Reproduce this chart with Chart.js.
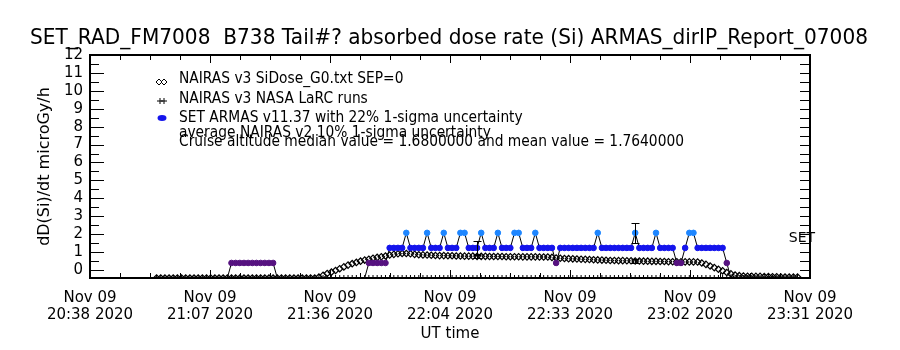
<!DOCTYPE html>
<html lang="en">
<head>
<meta charset="utf-8">
<title>SET_RAD_FM7008 absorbed dose rate</title>
<script src="https://cdn.jsdelivr.net/npm/chart.js@4.4.1/dist/chart.umd.min.js"></script>
<style>
    body { margin: 0; background: #fff; }
    canvas { display: block; }
</style>
</head>
<body>
<canvas id="grafico-dosis" width="900" height="350"></canvas>
<script>
// Tiempo: minutos desde Nov 09 2020 20:38 UT
const titulo = 'SET_RAD_FM7008  B738 Tail#? absorbed dose rate (Si) ARMAS_dirIP_Report_07008';

const xTickLabels = [
    ['Nov 09', '20:38 2020'],
    ['Nov 09', '21:07 2020'],
    ['Nov 09', '21:36 2020'],
    ['Nov 09', '22:04 2020'],
    ['Nov 09', '22:33 2020'],
    ['Nov 09', '23:02 2020'],
    ['Nov 09', '23:31 2020']
];
const xSpanMin = 173;
const yTickLabels = ['0', '1', '2', '3', '4', '5', '6', '7', '8', '9', '10', '11', '12'];

const minutos = [
    16, 17, 18, 19, 20, 21, 22, 23, 24, 25,
    26, 27, 28, 29, 30, 31, 32, 33, 34, 35,
    36, 37, 38, 39, 40, 41, 42, 43, 44, 45,
    46, 47, 48, 49, 50, 51, 52, 53, 54, 55,
    56, 57, 58, 59, 60, 61, 62, 63, 64, 65,
    66, 67, 68, 69, 70, 71, 72, 73, 74, 75,
    76, 77, 78, 79, 80, 81, 82, 83, 84, 85,
    86, 87, 88, 89, 90, 91, 92, 93, 94, 95,
    96, 97, 98, 99, 100, 101, 102, 103, 104, 105,
    106, 107, 108, 109, 110, 111, 112, 113, 114, 115,
    116, 117, 118, 119, 120, 121, 122, 123, 124, 125,
    126, 127, 128, 129, 130, 131, 132, 133, 134, 135,
    136, 137, 138, 139, 140, 141, 142, 143, 144, 145,
    146, 147, 148, 149, 150, 151, 152, 153, 154, 155,
    156, 157, 158, 159, 160, 161, 162, 163, 164, 165,
    166, 167, 168, 169, 170
];

// SET ARMAS v11.37 (microGy/h)
const setDosis = [
    0, 0, 0, 0, 0, 0, 0, 0, 0, 0,
    0, 0, 0, 0, 0, 0, 0, 0, 0.84, 0.84,
    0.84, 0.84, 0.84, 0.84, 0.84, 0.84, 0.84, 0.84, 0.84, 0,
    0, 0, 0, 0, 0, 0, 0, 0, 0, 0,
    0, 0, 0, 0, 0, 0, 0, 0, 0, 0,
    0, 0.84, 0.84, 0.84, 0.84, 0.84, 1.68, 1.68, 1.68, 1.68,
    2.52, 1.68, 1.68, 1.68, 1.68, 2.52, 1.68, 1.68, 1.68, 2.52,
    1.68, 1.68, 1.68, 2.52, 2.52, 1.68, 1.68, 1.68, 2.52, 1.68,
    1.68, 1.68, 2.52, 1.68, 1.68, 1.68, 2.52, 2.52, 1.68, 1.68,
    1.68, 2.52, 1.68, 1.68, 1.68, 1.68, 0.84, 1.68, 1.68, 1.68,
    1.68, 1.68, 1.68, 1.68, 1.68, 1.68, 2.52, 1.68, 1.68, 1.68,
    1.68, 1.68, 1.68, 1.68, 1.68, 2.52, 1.68, 1.68, 1.68, 1.68,
    2.52, 1.68, 1.68, 1.68, 1.68, 0.84, 0.84, 1.68, 2.52, 2.52,
    1.68, 1.68, 1.68, 1.68, 1.68, 1.68, 1.68, 0.84, 0, 0,
    0, 0, 0, 0, 0, 0, 0, 0, 0, 0,
    0, 0, 0, 0, 0
];

// NAIRAS v3 SiDose_G0.txt SEP=0
const nairasDosis = [
    0, 0, 0, 0, 0, 0, 0, 0, 0, 0,
    0, 0, 0, 0, 0, 0, 0, 0, 0, 0,
    0, 0, 0, 0, 0, 0, 0, 0, 0, 0,
    0, 0, 0, 0, 0, 0, 0, 0, 0, 0.05,
    0.15, 0.25, 0.33, 0.42, 0.52, 0.62, 0.72, 0.8, 0.87, 0.94,
    1.0, 1.05, 1.1, 1.15, 1.19, 1.23, 1.28, 1.32, 1.35, 1.37,
    1.37, 1.35, 1.32, 1.3, 1.29, 1.28, 1.27, 1.26, 1.25, 1.25,
    1.24, 1.24, 1.23, 1.23, 1.22, 1.22, 1.22, 1.21, 1.21, 1.21,
    1.2, 1.2, 1.2, 1.2, 1.19, 1.19, 1.19, 1.19, 1.18, 1.18,
    1.18, 1.18, 1.17, 1.17, 1.17, 1.15, 1.12, 1.1, 1.09, 1.08,
    1.07, 1.06, 1.05, 1.04, 1.03, 1.02, 1.01, 1.0, 0.99, 0.98,
    0.98, 0.97, 0.97, 0.96, 0.96, 0.95, 0.95, 0.94, 0.94, 0.93,
    0.93, 0.92, 0.92, 0.91, 0.91, 0.91, 0.9, 0.9, 0.9, 0.9,
    0.89, 0.84, 0.76, 0.67, 0.58, 0.49, 0.4, 0.31, 0.23, 0.17,
    0.13, 0.11, 0.1, 0.1, 0.09, 0.09, 0.08, 0.08, 0.07, 0.07,
    0.06, 0.06, 0.05, 0.05, 0.05
];

// NAIRAS v3 NASA LaRC runs
const larcDosis = [
    0, 0, 0, 0, 0, 0, 0, 0, 0, 0,
    0, 0, 0, 0, 0, 0, 0, 0, 0, 0,
    0, 0, 0, 0, 0, 0, 0, 0, 0, 0,
    0, 0, 0, 0, 0, 0, 0, 0, 0, 0,
    0, 0, 0, 0, 0, 0, 0, 0, 0, 0,
    0, 0, 0, 0, 0, 0, 0, 0, 0, 0,
    0, 0, 0, 0, 0, 0, 0, 0, 0, 0,
    0, 0, 0, 0, 0, 0, 0, 0, 0, 0,
    0, 0, 0, 0, 0, 0, 0, 0, 0, 0,
    0, 0, 0, 0, 0, 0, 0, 0, 0, 0,
    0, 0, 0, 0, 0, 0, 0, 0, 0, 0,
    0, 0, 0, 0, 0, 0, 0, 0, 0, 0,
    0, 0, 0, 0, 0, 0, 0, 0, 0, 0,
    0, 0, 0, 0, 0, 0, 0, 0, 0, 0,
    0, 0, 0, 0, 0, 0, 0, 0, 0, 0,
    0, 0, 0, 0, 0
];

// barras de incertidumbre
const errMinutos = [93, 131];
const setErrDosis = [1.68, 2.52];
const nairasMedia = [1.21, 0.95];
const setSigma = 0.22;
const nairasSigma = 0.10;

const leyenda = [
    'NAIRAS v3 SiDose_G0.txt SEP=0',
    'NAIRAS v3 NASA LaRC runs',
    'SET ARMAS v11.37 with 22% 1-sigma uncertainty',
    'average NAIRAS v2 10% 1-sigma uncertainty',
    'Cruise altitude median value = 1.6800000 and mean value = 1.7640000'
];

const FUENTE = '"DejaVu Sans", sans-serif';
const Y_SHIFT = 0.45;

function colorSet(v) {
    if (v >= 2.5) return '#1e86ff';
    if (v >= 1.6) return '#1414ec';
    return '#561280';
}

function linea(ctx, x1, y1, x2, y2) {
    ctx.beginPath();
    ctx.moveTo(x1, y1);
    ctx.lineTo(x2, y2);
    ctx.stroke();
}

// barras de error (SET 22%, NAIRAS v2 10%)
const errorPlugin = {
    id: 'errores',
    afterDatasetsDraw(chart) {
        const { ctx, scales: { x, y } } = chart;
        ctx.save();
        ctx.strokeStyle = '#000';
        ctx.lineWidth = 1;
        errMinutos.forEach((t, i) => {
            const px = Math.round(x.getPixelForValue(t)) + 0.5;
            [[setErrDosis[i], setSigma], [nairasMedia[i], nairasSigma]].forEach(([v, s]) => {
                const y1 = Math.round(y.getPixelForValue(v * (1 + s))) + 0.5;
                const y2 = Math.round(y.getPixelForValue(v * (1 - s))) + 0.5;
                linea(ctx, px, y1, px, y2);
                linea(ctx, px - 4, y1, px + 4, y1);
                linea(ctx, px - 4, y2, px + 4, y2);
            });
        });
        ctx.restore();
    }
};

// marco con marcas hacia dentro, titulo, leyenda y rotulos
const marcoPlugin = {
    id: 'marco',
    afterDraw(chart) {
        const { ctx, chartArea: a, scales: { x, y } } = chart;
        ctx.save();
        ctx.strokeStyle = '#000';
        ctx.lineWidth = 1;

        const xt = x.ticks.map(t => t.value);
        for (let i = 0; i < xt.length; i++) {
            const px = Math.round(x.getPixelForValue(xt[i])) + 0.5;
            linea(ctx, px, a.bottom, px, a.bottom - 8);
            linea(ctx, px, a.top, px, a.top + 8);
            if (i < xt.length - 1) {
                for (let k = 1; k < 4; k++) {
                    const mx = Math.round(x.getPixelForValue(xt[i] + k * (xt[i + 1] - xt[i]) / 4)) + 0.5;
                    linea(ctx, mx, a.bottom, mx, a.bottom - 5);
                    linea(ctx, mx, a.top, mx, a.top + 5);
                }
            }
        }
        const yt = y.ticks.map(t => t.value);
        yt.forEach(v => {
            const py = Math.round(y.getPixelForValue(v)) + 0.5;
            linea(ctx, a.left, py, a.left + 14, py);
            linea(ctx, a.right, py, a.right - 10, py);
            if (v + 0.5 < y.max) {
                const my = Math.round(y.getPixelForValue(v + 0.5)) + 0.5;
                linea(ctx, a.left, my, a.left + 9, my);
                linea(ctx, a.right, my, a.right - 10, my);
            }
        });

        ctx.lineWidth = 2;
        ctx.strokeRect(a.left, a.top, a.right - a.left, a.bottom - a.top);

        ctx.fillStyle = '#000';
        ctx.textBaseline = 'alphabetic';
        ctx.textAlign = 'left';

        // titulo
        ctx.font = '22px ' + FUENTE;
        const wt = ctx.measureText(titulo).width;
        ctx.save();
        ctx.translate(30, 44);
        ctx.scale(838 / wt, 1);
        ctx.fillText(titulo, 0, 0);
        ctx.restore();

        // leyenda
        const baseY = [83, 103, 122, 137, 146];
        ctx.font = '15px ' + FUENTE;
        leyenda.forEach((txt, i) => {
            ctx.save();
            ctx.translate(179, baseY[i]);
            ctx.scale(0.92, 1);
            ctx.fillText(txt, 0, 0);
            ctx.restore();
        });
        const h = Chart.helpers;
        const simb = { pointStyle: 'rectRot', rotation: 0, radius: 3, borderWidth: 1 };
        ctx.fillStyle = 'rgba(0,0,0,0)';
        ctx.lineWidth = 1;
        h.drawPoint(ctx, simb, 159, 82);
        h.drawPoint(ctx, simb, 164, 82);
        const cruz = { pointStyle: 'cross', rotation: 0, radius: 3, borderWidth: 1 };
        h.drawPoint(ctx, cruz, 160, 101);
        h.drawPoint(ctx, cruz, 164, 101);
        ctx.fillStyle = colorSet(1.68);
        ctx.beginPath();
        ctx.ellipse(162, 118, 4.5, 3, 0, 0, Math.PI * 2);
        ctx.fill();

        // rotulo SET a la derecha
        ctx.fillStyle = '#000';
        ctx.font = '14px ' + FUENTE;
        ctx.textAlign = 'center';
        ctx.fillText('SET', a.right - 8, 242);
        ctx.restore();
    }
};

const datos = (vals) => minutos.map((t, i) => ({ x: t, y: vals[i] }));

new Chart(document.getElementById('grafico-dosis'), {
    type: 'scatter',
    data: {
        datasets: [
            {
                label: 'SET ARMAS v11.37',
                data: datos(setDosis),
                showLine: true,
                borderColor: '#000',
                borderWidth: 1,
                pointStyle: 'circle',
                pointRadius: c => (c.raw && c.raw.y > 0 ? 2.8 : 0),
                pointBorderWidth: 1,
                pointBackgroundColor: c => colorSet(c.raw ? c.raw.y : 0),
                pointBorderColor: c => colorSet(c.raw ? c.raw.y : 0),
                clip: 0
            },
            {
                label: 'NAIRAS v3 SiDose_G0.txt SEP=0',
                data: datos(nairasDosis),
                showLine: false,
                pointStyle: 'rectRot',
                pointRadius: 3.2,
                pointBorderWidth: 1.2,
                pointBorderColor: '#000',
                pointBackgroundColor: 'rgba(0,0,0,0)',
                clip: 0
            },
            {
                label: 'NAIRAS v3 NASA LaRC runs',
                data: datos(larcDosis),
                showLine: false,
                pointStyle: 'cross',
                pointRadius: 3,
                pointBorderWidth: 1,
                pointBorderColor: '#000',
                clip: 0
            }
        ]
    },
    options: {
        responsive: false,
        animation: false,
        events: [],
        layout: { padding: { left: 0, right: 90, top: 55, bottom: 0 } },
        plugins: {
            legend: { display: false },
            tooltip: { enabled: false }
        },
        scales: {
            x: {
                type: 'linear',
                min: 0,
                max: xSpanMin,
                afterBuildTicks: s => { s.ticks = xTickLabels.map((_, i) => ({ value: i * xSpanMin / 6 })); },
                afterFit: s => { s.height = 72; s.paddingLeft = 0; s.paddingRight = 0; },
                grid: { display: false, drawTicks: false },
                border: { display: false },
                ticks: {
                    autoSkip: false,
                    minRotation: 0,
                    maxRotation: 0,
                    padding: 12,
                    color: '#000',
                    font: { family: FUENTE, size: 15, lineHeight: 1.13 },
                    callback: (v, i) => xTickLabels[i]
                },
                title: {
                    display: true,
                    text: 'UT time',
                    color: '#000',
                    font: { family: FUENTE, size: 15, lineHeight: 1.2 },
                    padding: { top: 0, bottom: 7 }
                }
            },
            y: {
                type: 'linear',
                min: 0,
                max: 12 + Y_SHIFT,
                afterBuildTicks: s => { s.ticks = yTickLabels.map((_, i) => ({ value: i + Y_SHIFT })); },
                afterFit: s => { s.width = 90; s.paddingTop = 0; s.paddingBottom = 0; },
                grid: { display: false, drawTicks: false },
                border: { display: false },
                ticks: {
                    autoSkip: false,
                    padding: 7,
                    color: '#000',
                    font: { family: FUENTE, size: 15 },
                    callback: (v, i) => yTickLabels[i]
                },
                title: {
                    display: true,
                    text: 'dD(Si)/dt microGy/h',
                    color: '#000',
                    font: { family: FUENTE, size: 16, lineHeight: 1.2 },
                    padding: { top: 35, bottom: 0 }
                }
            }
        }
    },
    plugins: [errorPlugin, marcoPlugin]
});
</script>
</body>
</html>
